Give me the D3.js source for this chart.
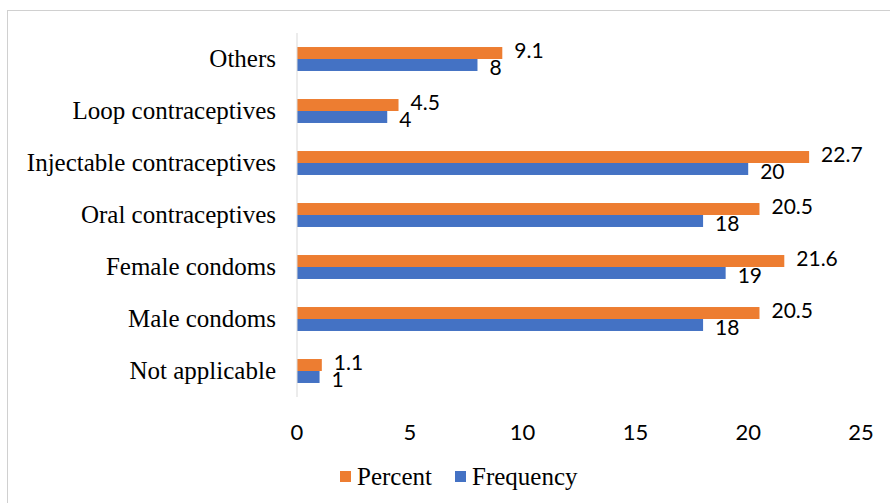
<!DOCTYPE html>
<html>
<head>
<meta charset="utf-8">
<script src="https://cdn.jsdelivr.net/npm/d3@7"></script>
<style>
  body { margin: 0; background: #fff; }
  svg { display: block; }
</style>
</head>
<body>
<svg id="chart" width="890" height="503"></svg>
<script>
var categories = ["Others", "Loop contraceptives", "Injectable contraceptives",
    "Oral contraceptives", "Female condoms", "Male condoms", "Not applicable"];
var percent = [9.1, 4.5, 22.7, 20.5, 21.6, 20.5, 1.1];
var frequency = [8, 4, 20, 18, 19, 18, 1];
var seriesNames = ["Percent", "Frequency"];
var xTicks = [0, 5, 10, 15, 20, 25];

var colors = { Percent: "#ED7D31", Frequency: "#4472C4" };
// small vertical nudge of value labels so the pair doesn't collide
var labelShift = { Percent: -3, Frequency: 2 };

var svg = d3.select("#chart");

// outer frame
svg.append("rect")
    .attr("x", 7.5).attr("y", 10.5)
    .attr("width", 900).attr("height", 520)
    .attr("fill", "none")
    .attr("stroke", "#d0d0d0");

var xScale = d3.scaleLinear().domain([0, 25]).range([297, 861]);
var yScale = d3.scaleBand().domain(categories).range([33, 397]);
var inner = d3.scaleBand().domain(seriesNames)
    .range([0, yScale.bandwidth()]).paddingInner(0).paddingOuter(1.17);

var rows = categories.map(function (c, i) {
    return { cat: c, Percent: percent[i], Frequency: frequency[i] };
});

// bars
seriesNames.forEach(function (s) {
    svg.selectAll(".bar-" + s)
        .data(rows)
        .enter()
        .append("rect")
        .attr("class", "bar-" + s)
        .attr("x", xScale(0))
        .attr("y", function (d) { return yScale(d.cat) + inner(s); })
        .attr("width", function (d) { return xScale(d[s]) - xScale(0); })
        .attr("height", inner.bandwidth())
        .attr("fill", colors[s]);

    // value labels
    svg.selectAll(".lbl-" + s)
        .data(rows)
        .enter()
        .append("text")
        .attr("x", function (d) { return xScale(d[s]) + 12; })
        .attr("y", function (d) {
            return yScale(d.cat) + inner(s) + inner.bandwidth() / 2 + labelShift[s];
        })
        .attr("dy", "0.36em")
        .attr("font-family", "Lato, 'Liberation Sans', sans-serif")
        .attr("font-size", "21px")
        .attr("fill", "#000")
        .text(function (d) { return d[s]; });
});

// Y axis line
svg.append("line")
    .attr("x1", xScale(0)).attr("x2", xScale(0))
    .attr("y1", 33).attr("y2", 397)
    .attr("stroke", "#d9d9d9");

// category labels
svg.selectAll(".cat")
    .data(categories)
    .enter()
    .append("text")
    .attr("x", 276)
    .attr("y", function (d) { return yScale(d) + yScale.bandwidth() / 2; })
    .attr("dy", "0.33em")
    .attr("text-anchor", "end")
    .attr("font-family", "'Liberation Serif', 'Times New Roman', serif")
    .attr("font-size", "25px")
    .attr("fill", "#000")
    .text(function (d) { return d; });

// X tick labels
svg.selectAll(".tick")
    .data(xTicks)
    .enter()
    .append("text")
    .attr("x", function (d) { return xScale(d); })
    .attr("y", 432)
    .attr("dy", "0.36em")
    .attr("text-anchor", "middle")
    .attr("font-family", "Lato, 'Liberation Sans', sans-serif")
    .attr("font-size", "22px")
    .attr("fill", "#000")
    .text(function (d) { return d; });

// legend
var legend = svg.append("g");
var legendX = [340, 455];
seriesNames.forEach(function (s, i) {
    legend.append("rect")
        .attr("x", legendX[i]).attr("y", 471)
        .attr("width", 11).attr("height", 11)
        .attr("fill", colors[s]);
    legend.append("text")
        .attr("x", legendX[i] + 17).attr("y", 477)
        .attr("dy", "0.33em")
        .attr("font-family", "'Liberation Serif', 'Times New Roman', serif")
        .attr("font-size", "25px")
        .attr("fill", "#000")
        .text(s);
});
</script>
</body>
</html>
